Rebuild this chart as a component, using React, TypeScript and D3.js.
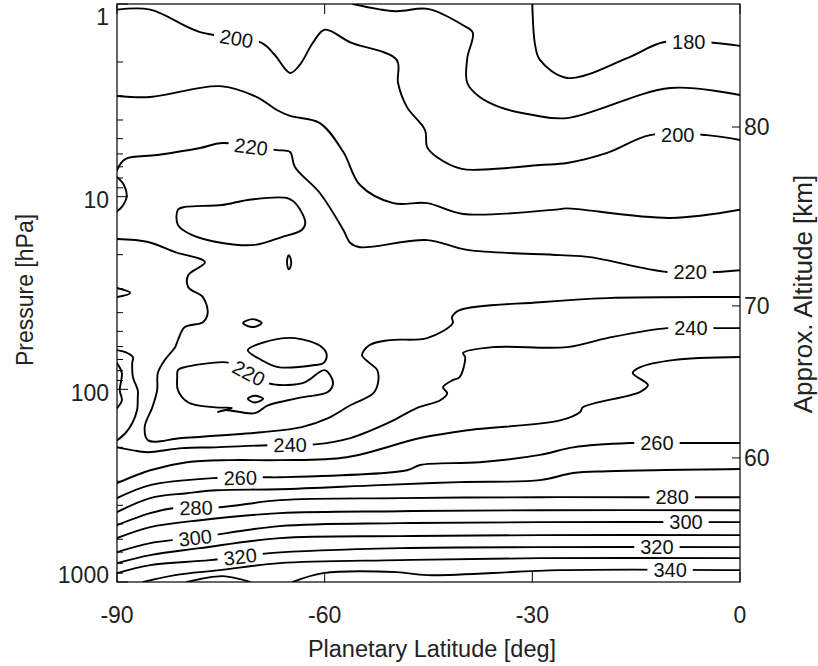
import React from "react";
import * as d3 from "d3";

type Pt = [number, number]; // [latitude deg, pressure hPa]

// Isotherm traces (temperature in K), vertices as [latitude, pressure]
const t180: Pt[] = [[-30.0, 1.0], [-29.6, 1.63], [-28.9, 1.95], [-25.0, 2.42], [-16.3, 1.91], [-11.1, 1.58], [-4.8, 1.58], [0, 1.65]];
const t190: Pt[] = [[-55.9, 1.0], [-49.8, 1.09], [-45.1, 1.06], [-40.0, 1.29], [-38.6, 1.41], [-39.4, 1.91], [-39.4, 2.57], [-37.6, 3.04], [-34.7, 3.43], [-29.9, 3.77], [-25.0, 3.91], [-10.1, 2.73], [0, 2.97]];
const t200: Pt[] = [[-90, 1.07], [-85.2, 1.07], [-78.0, 1.40], [-69.1, 1.59], [-67.2, 1.84], [-65.0, 2.28], [-63.6, 2.07], [-61.7, 1.59], [-60.0, 1.36], [-56.3, 1.58], [-49.6, 1.95], [-49.4, 2.57], [-48.1, 3.43], [-45.5, 4.51], [-45.2, 5.53], [-43.8, 6.23], [-40.2, 7.18], [-35.7, 7.18], [-28.9, 6.85], [-25.0, 6.69], [-19.2, 5.93], [-13.0, 4.79], [-4.8, 4.79], [0, 5.08]];
const t210: Pt[] = [[-90, 3.00], [-85.2, 3.04], [-75.1, 2.67], [-69.8, 3.04], [-66.9, 3.55], [-65.0, 3.81], [-60.7, 4.15], [-57.3, 5.87], [-54.9, 8.70], [-50.1, 10.8], [-45.2, 10.8], [-40.0, 12.3], [-26.0, 11.6], [-25.0, 11.5], [-10.1, 12.9], [0, 11.7]];
const t220: Pt[] = [[-90, 7.28], [-88.8, 6.38], [-84.2, 6.08], [-78.0, 5.59], [-74.8, 5.27], [-66.9, 5.73], [-65.0, 5.87], [-64.3, 7.02], [-60.7, 9.57], [-57.3, 14.9], [-56.3, 17.4], [-54.9, 18.3], [-45.2, 16.8], [-39.4, 18.9], [-26.0, 20.1], [-21.7, 20.6], [-10.5, 24.6], [-3.3, 24.6], [0, 24.1]];
const t230: Pt[] = [[-90, 16.6], [-85.5, 17.2], [-81.6, 19.4], [-77.3, 21.9], [-79.7, 25.5], [-79.7, 29.5], [-77.6, 33.2], [-76.9, 40.2], [-77.6, 44.8], [-80.2, 47.5], [-81.2, 55.5], [-81.6, 60.4], [-83.1, 70.5], [-84.1, 82.3], [-84.2, 101], [-84.9, 124], [-86.0, 157], [-85.5, 184], [-80.6, 179], [-69.1, 167], [-63.3, 157], [-59.5, 141], [-56.3, 121], [-53.0, 105], [-52.3, 92.8], [-52.4, 79.5], [-53.5, 73.1], [-54.6, 66.4], [-53.5, 58.9], [-50.6, 55.5], [-45.2, 54.2], [-41.5, 45.3], [-41.6, 42.2], [-40.5, 38.8], [-28.9, 35.3], [-19.2, 33.6], [0, 33.2]];
const t240: Pt[] = [[-90, 200], [-87.1, 209], [-85.5, 212], [-80.6, 202], [-75.8, 200], [-68.2, 195], [-61.4, 193], [-56.3, 179], [-50.6, 148], [-46.7, 125], [-43.3, 114], [-42.3, 105], [-42.9, 97.4], [-41.5, 89.6], [-40.5, 86.4], [-39.7, 68.0], [-40.0, 64.8], [-35.7, 60.4], [-25.0, 60.4], [-19.2, 54.2], [-10.5, 48.1], [-3.3, 48.1], [0, 48.1]];
const t250: Pt[] = [[-90, 307], [-85.2, 263], [-79.9, 239], [-73.7, 233], [-66.5, 233], [-56.8, 225], [-46.2, 179], [-39.4, 163], [-26.0, 145], [-23.1, 131], [-22.7, 124], [-14.4, 103], [-13.3, 95.0], [-15.5, 82.3], [-14.4, 76.7], [-9.7, 70.5], [0, 68.0]];
const t260: Pt[] = [[-90, 367], [-85.2, 314], [-76.1, 289], [-68.6, 286], [-66.5, 286], [-48.1, 263], [-46.2, 247], [-37.6, 239], [-28.9, 219], [-24.1, 200], [-15.9, 190], [-8.2, 190], [0, 190]];
const t270: Pt[] = [[-90, 434], [-85.2, 367], [-79.9, 346], [-75.6, 334], [-66.5, 330], [-52.0, 314], [-40.5, 303], [-28.9, 296], [-24.1, 272], [-19.2, 266], [0, 259]];
const t280: Pt[] = [[-90, 507], [-85.2, 439], [-81.9, 414], [-75.1, 409], [-66.5, 376], [-49.1, 367], [-28.9, 363], [-13.4, 363], [-6.2, 363], [0, 363]];
const t290: Pt[] = [[-90, 592], [-85.2, 519], [-78.0, 478], [-66.5, 439], [-49.1, 429], [-28.9, 424], [0, 424]];
const t300: Pt[] = [[-90, 700], [-85.2, 628], [-78.0, 585], [-66.5, 513], [-49.1, 495], [-28.9, 489], [0, 489]];
const t310: Pt[] = [[-90, 798], [-85.2, 725], [-78.0, 667], [-66.5, 592], [-49.1, 578], [-28.9, 571], [0, 571]];
const t320: Pt[] = [[-90, 900], [-85.2, 817], [-76.6, 770], [-67.9, 708], [-49.1, 667], [-28.9, 659], [0, 659]];
const t330: Pt[] = [[-86.2, 1000], [-81.6, 921], [-75.1, 868], [-66.5, 798], [-49.1, 770], [-28.9, 752], [0, 752]];
const t340a: Pt[] = [[-79.9, 1000], [-77.3, 955], [-74.8, 932], [-72.2, 967], [-70.8, 1000]];
const t340b: Pt[] = [[-64.6, 1000], [-60.2, 900], [-49.6, 889], [-45.2, 921], [-26.0, 868], [0, 868]];

// Small closed cells and polar-edge tongues
const polar230: Pt[] = [[-90, 7.91], [-89.0, 8.70], [-88.6, 10.0], [-89.3, 11.3], [-90, 11.9]];
const polar240a: Pt[] = [[-90, 29.8], [-88.1, 31.6], [-90, 33.2]];
const polar240b: Pt[] = [[-90, 62.6], [-88.8, 64.1], [-87.7, 68.0], [-87.8, 73.1], [-87.7, 86.4], [-87.0, 101], [-87.0, 110], [-87.1, 128], [-87.8, 150], [-88.8, 169], [-90, 184]];
const polar250: Pt[] = [[-90, 73.1], [-89.3, 82.3], [-89.6, 101], [-89.3, 114], [-90, 125]];
const cell10hPa: Pt[] = [[-81.2, 11.7], [-80.2, 11.3], [-74.8, 11.05], [-71.1, 10.4], [-65.3, 10.2], [-64.0, 11.05], [-62.8, 13.7], [-63.3, 14.9], [-66.2, 16.2], [-70.1, 17.8], [-74.8, 17.4], [-79.2, 15.8], [-81.2, 14.0], [-81.2, 11.7]];
const oval22hPa: Pt[] = [[-65.2, 20.1], [-64.9, 21.1], [-64.9, 22.9], [-65.2, 23.8], [-65.4, 22.6], [-65.4, 21.1], [-65.2, 20.1]];
const cell45hPa: Pt[] = [[-71.8, 45.3], [-70.4, 43.2], [-69.1, 45.3], [-70.4, 47.5], [-71.8, 45.3]];
const collarUpper: Pt[] = [[-71.1, 62.6], [-69.1, 57.5], [-64.3, 54.2], [-60.4, 60.4], [-59.7, 66.4], [-60.2, 73.1], [-61.4, 74.8], [-66.7, 76.7], [-69.1, 70.5], [-71.1, 62.6]];
const collarLower: Pt[] = [[-81.2, 79.5], [-80.2, 76.7], [-74.8, 72.2], [-73.7, 73.1], [-68.2, 92.8], [-65.3, 95.0], [-62.8, 91.7], [-62.1, 88.5], [-60.0, 79.5], [-58.8, 91.7], [-59.5, 103], [-63.3, 110], [-65.3, 114], [-68.2, 121], [-70.1, 133], [-74.4, 128], [-75.4, 131], [-73.4, 125], [-75.8, 124], [-79.7, 117], [-81.2, 101], [-81.3, 86.4], [-81.2, 79.5]];
const cell110hPa: Pt[] = [[-71.1, 112], [-70.1, 108], [-68.9, 112], [-70.1, 117], [-71.1, 112]];

const isotherms: { level: number; pts: Pt[] }[] = [
  { level: 180, pts: t180 },
  { level: 190, pts: t190 },
  { level: 200, pts: t200 },
  { level: 210, pts: t210 },
  { level: 220, pts: t220 },
  { level: 230, pts: t230 },
  { level: 240, pts: t240 },
  { level: 250, pts: t250 },
  { level: 260, pts: t260 },
  { level: 270, pts: t270 },
  { level: 280, pts: t280 },
  { level: 290, pts: t290 },
  { level: 300, pts: t300 },
  { level: 310, pts: t310 },
  { level: 320, pts: t320 },
  { level: 330, pts: t330 },
  { level: 340, pts: t340a },
  { level: 340, pts: t340b },
  { level: 230, pts: polar230 },
  { level: 240, pts: polar240a },
  { level: 240, pts: polar240b },
  { level: 250, pts: polar250 },
  { level: 220, pts: cell10hPa },
  { level: 220, pts: oval22hPa },
  { level: 230, pts: cell45hPa },
  { level: 220, pts: collarUpper },
  { level: 220, pts: collarLower },
  { level: 210, pts: cell110hPa },
];

// Inline contour labels: level, latitude, pressure
const labelLevels = [200, 180, 200, 220, 220, 220, 240, 240, 260, 260, 280, 280, 300, 300, 320, 320, 340];
const labelLats = [-72.7, -7.4, -9.0, -70.6, -7.2, -70.8, -65.0, -7.1, -72.2, -12.0, -78.6, -9.8, -78.7, -7.8, -72.2, -12.0, -10.1];
const labelPs = [1.48, 1.58, 4.79, 5.39, 24.6, 80.4, 193, 48.1, 286, 190, 411, 363, 588, 489, 743, 659, 868];

// Axes
const latTicks = [-90, -60, -30, 0];
const pressureTicks = [1, 10, 100, 1000];
const altitudeKm = [60, 70, 80];
const altitudeP = [227, 36.9, 4.35];

const FONT = "'Liberation Sans', Arial, Helvetica, sans-serif";

export default function App() {
  const W = 818;
  const H = 666;
  const left = 117;
  const right = 740;
  const top = 4;
  const bottom = 582;

  const x = d3.scaleLinear().domain([-90, 0]).range([left, right]);
  const y = d3.scaleLog().domain([1, 1000]).range([top, bottom]);
  const openLine = d3
    .line<Pt>()
    .x((d) => x(d[0]))
    .y((d) => y(d[1]))
    .curve(d3.curveCatmullRom.alpha(0.5));
  const closedLine = d3
    .line<Pt>()
    .x((d) => x(d[0]))
    .y((d) => y(d[1]))
    .curve(d3.curveCatmullRomClosed.alpha(0.5));

  const pathFor = (pts: Pt[]) => {
    const a = pts[0];
    const b = pts[pts.length - 1];
    const closed = pts.length > 3 && a[0] === b[0] && a[1] === b[1];
    return closed ? closedLine(pts.slice(0, -1)) || "" : openLine(pts) || "";
  };

  const minorP: number[] = [];
  [1, 10, 100].forEach((dec) => {
    for (let k = 2; k <= 9; k++) minorP.push(dec * k);
  });

  const labelFs = 20;
  const labels = labelLevels.map((level, i) => {
    const px = x(labelLats[i]);
    const py = y(labelPs[i]);
    let best = { d: Infinity, qx: px, qy: py, ang: 0 };
    isotherms
      .filter((c) => c.level === level)
      .forEach((c) => {
        for (let k = 0; k < c.pts.length - 1; k++) {
          const ax = x(c.pts[k][0]);
          const ay = y(c.pts[k][1]);
          const bx = x(c.pts[k + 1][0]);
          const by = y(c.pts[k + 1][1]);
          const dx = bx - ax;
          const dy = by - ay;
          const len2 = dx * dx + dy * dy || 1;
          const t = Math.max(0, Math.min(1, ((px - ax) * dx + (py - ay) * dy) / len2));
          const qx = ax + t * dx;
          const qy = ay + t * dy;
          const d = Math.hypot(px - qx, py - qy);
          if (d < best.d) {
            let ang = (Math.atan2(dy, dx) * 180) / Math.PI;
            if (ang > 90) ang -= 180;
            if (ang < -90) ang += 180;
            best = { d, qx, qy, ang };
          }
        }
      });
    return { level, ...best };
  });

  return (
    <svg
      width={W}
      height={H}
      viewBox={`0 0 ${W} ${H}`}
      style={{ position: "absolute", left: 0, top: 0, background: "#fff" }}
      fontFamily={FONT}
    >
      <defs>
        <clipPath id="plot-clip">
          <rect x={left} y={top} width={right - left} height={bottom - top} />
        </clipPath>
      </defs>
      <rect x={0} y={0} width={W} height={H} fill="#fff" />

      <g clipPath="url(#plot-clip)">
        {isotherms.map((c, i) => (
          <path
            key={i}
            d={pathFor(c.pts)}
            fill="none"
            stroke="#000"
            strokeWidth={1.9}
            strokeLinejoin="round"
            strokeLinecap="round"
          />
        ))}
        {labels.map((l, i) => {
          const w = String(l.level).length * 0.556 * labelFs + 12;
          return (
            <g key={i} transform={`translate(${l.qx},${l.qy}) rotate(${l.ang})`}>
              <rect x={-w / 2} y={-4.5} width={w} height={9} fill="#fff" />
              <text textAnchor="middle" dy="0.36em" fontSize={labelFs} fill="#111">
                {l.level}
              </text>
            </g>
          );
        })}
      </g>

      {/* frame */}
      <rect
        x={left}
        y={top}
        width={right - left}
        height={bottom - top}
        fill="none"
        stroke="#000"
        strokeWidth={1.2}
      />

      {/* latitude ticks */}
      {latTicks.map((t) => (
        <g key={`lx${t}`}>
          <line x1={x(t)} x2={x(t)} y1={bottom} y2={bottom - 10} stroke="#000" strokeWidth={1} />
          <line x1={x(t)} x2={x(t)} y1={top} y2={top + 10} stroke="#000" strokeWidth={1} />
          <text x={x(t)} y={623} textAnchor="middle" fontSize={23} fill="#222">
            {t}
          </text>
        </g>
      ))}

      {/* pressure ticks */}
      {pressureTicks.map((p) => (
        <g key={`py${p}`}>
          <line x1={left} x2={left + 11} y1={y(p)} y2={y(p)} stroke="#000" strokeWidth={1} />
          <text
            x={109}
            y={Math.min(Math.max(y(p) + 3, 17), 575)}
            dy="0.36em"
            textAnchor="end"
            fontSize={23}
            fill="#222"
          >
            {p}
          </text>
        </g>
      ))}
      {minorP.map((p) => (
        <line key={`pm${p}`} x1={left} x2={left + 6} y1={y(p)} y2={y(p)} stroke="#000" strokeWidth={1} />
      ))}

      {/* approximate altitude ticks */}
      {altitudeKm.map((km, i) => (
        <g key={`alt${km}`}>
          <line x1={right - 8} x2={right} y1={y(altitudeP[i])} y2={y(altitudeP[i])} stroke="#000" strokeWidth={1} />
          <text x={744} y={y(altitudeP[i])} dy="0.36em" fontSize={23} fill="#222">
            {km}
          </text>
        </g>
      ))}

      {/* axis titles */}
      <text x={432} y={657} textAnchor="middle" fontSize={23.5} fill="#222">
        Planetary Latitude [deg]
      </text>
      <text transform="translate(33,290) rotate(-90)" textAnchor="middle" fontSize={23} fill="#222">
        Pressure [hPa]
      </text>
      <text transform="translate(812,294) rotate(-90)" textAnchor="middle" fontSize={26} fill="#222">
        Approx. Altitude [km]
      </text>
    </svg>
  );
}
